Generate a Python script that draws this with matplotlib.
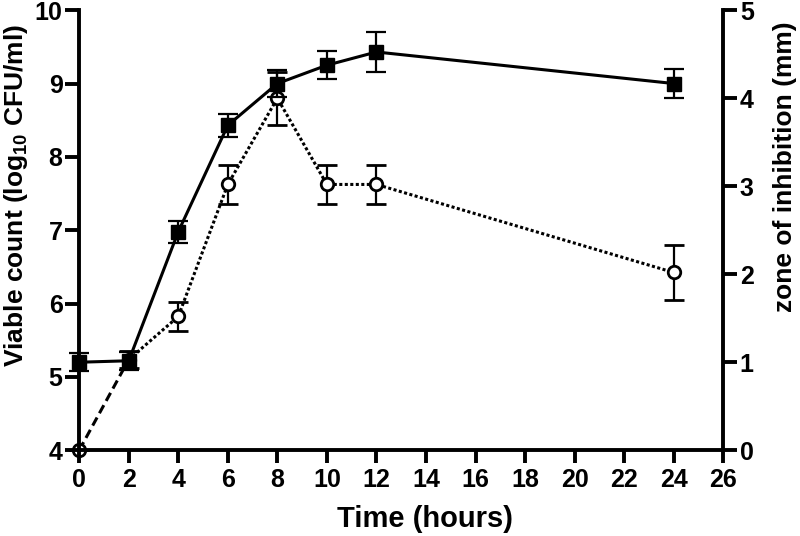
import matplotlib.pyplot as plt

plt.rcParams['font.family'] = ['Liberation Sans', 'DejaVu Sans']
plt.rcParams['font.weight'] = 'bold'
plt.rcParams['mathtext.fontset'] = 'custom'
plt.rcParams['mathtext.bf'] = 'Liberation Sans:bold'
plt.rcParams['mathtext.rm'] = 'Liberation Sans:bold'

# данные
hours = [0, 2, 4, 6, 8, 10, 12, 24]
viable = [5.2, 5.22, 6.98, 8.43, 9.0, 9.25, 9.43, 9.0]
viable_err = [0.12, 0.12, 0.15, 0.16, 0.18, 0.19, 0.27, 0.2]
zone = [0.0, 1.03, 1.52, 3.02, 4.0, 3.02, 3.02, 2.02]
zone_err = [0.0, 0.1, 0.17, 0.22, 0.3, 0.22, 0.22, 0.31]

x_ticks = list(range(0, 27, 2))

fig = plt.figure(figsize=(8, 5.36), dpi=100)
ax = fig.add_axes([0.099, 0.16, 0.805, 0.821])
ax2 = ax.twinx()

# зона ингибирования (правая ось)
ax2.plot(hours[:2], zone[:2], color='black', lw=2.2, ls=(0, (3, 1.6)), clip_on=False)
ax2.plot(hours[1:], zone[1:], color='black', lw=2.2, ls=(0, (1, 0.8)), clip_on=False)
ax2.errorbar(hours, zone, yerr=zone_err, fmt='o', mfc='white', mec='black', mew=2,
             ms=9, ecolor='black', elinewidth=1.6, capsize=7, capthick=1.6, clip_on=False)

# жизнеспособные клетки (левая ось)
ax.errorbar(hours, viable, yerr=viable_err, fmt='s-', color='black', lw=2.2, ms=10,
            elinewidth=1.6, capsize=7, capthick=1.6, clip_on=False, zorder=3)
ax.set_zorder(ax2.get_zorder() + 1)
ax.patch.set_visible(False)

ax.set_xlim(0, 26)
ax.set_ylim(4, 10)
ax2.set_ylim(0, 5)
ax.set_xticks(x_ticks)
ax.set_yticks(range(4, 11))
ax2.set_yticks(range(0, 6))

for a in (ax, ax2):
    a.spines['top'].set_visible(False)
    for s in ('left', 'bottom', 'right'):
        a.spines[s].set_linewidth(2.8)
    a.tick_params(width=2.8, length=10, pad=2, labelsize=18)
ax.tick_params(axis='x', length=9, pad=4)
ax.spines['right'].set_visible(False)
ax2.spines['left'].set_visible(False)
ax2.spines['bottom'].set_visible(False)

ax.set_xlabel('Time (hours)', fontsize=21, fontweight='bold')
ax.set_ylabel('Viable count (log$_{\\mathbf{10}}$ CFU/ml)', fontsize=19, fontweight='bold')
ax2.set_ylabel('zone of inhibition (mm)', fontsize=19, fontweight='bold')
ax.xaxis.set_label_coords(0.537, -0.125)
ax.yaxis.set_label_coords(-0.077, 0.58)
ax2.yaxis.set_label_coords(1.077, 0.645)

plt.savefig('out.png', dpi=100)
